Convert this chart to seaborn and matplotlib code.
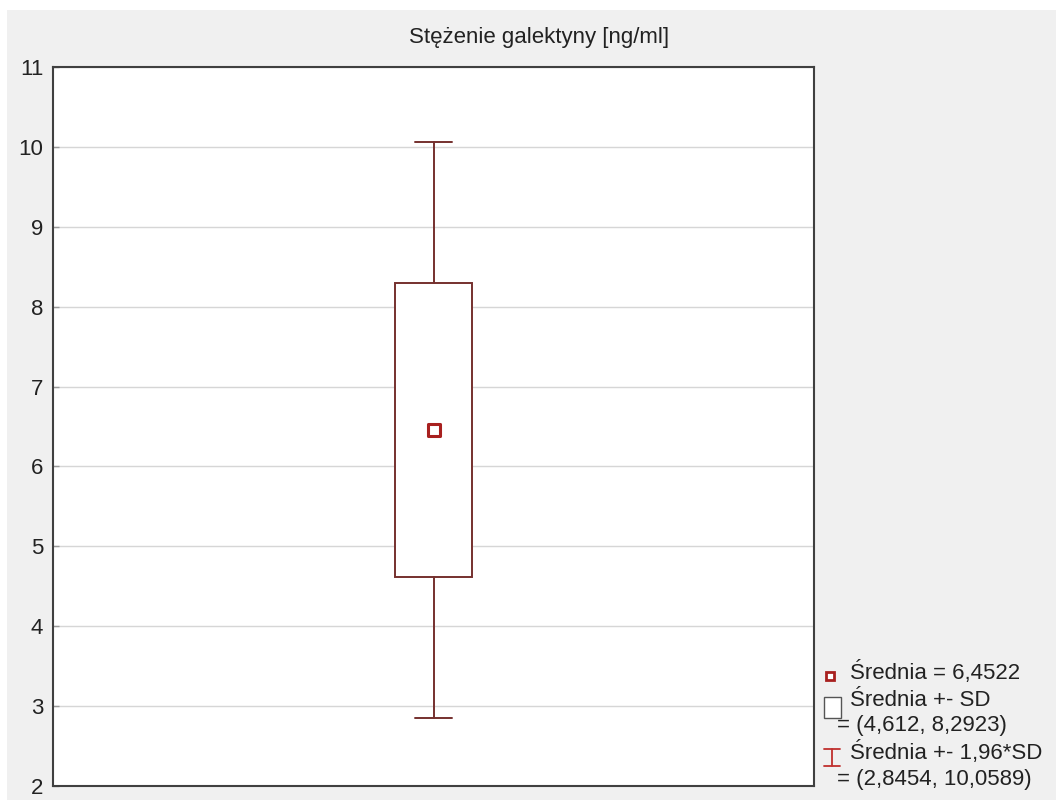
import matplotlib
matplotlib.use("Agg")
import matplotlib.pyplot as plt
from matplotlib.patches import Rectangle
from matplotlib.lines import Line2D
import seaborn as sns
import pandas as pd

# Summary statistics of galectin concentration
title = "Stężenie galektyny [ng/ml]"
mean_value = 6.4522
sd_range = [4.612, 8.2923]
sd196_range = [2.8454, 10.0589]
y_ticks = [2, 3, 4, 5, 6, 7, 8, 9, 10, 11]

legend_lines = [
    "Średnia = 6,4522",
    "Średnia +- SD",
    "= (4,612, 8,2923)",
    "Średnia +- 1,96*SD",
    "= (2,8454, 10,0589)",
]

sns.set_theme(style="white")
plt.rcParams["font.family"] = ["Liberation Sans", "DejaVu Sans"]

BOX_COLOR = "#75302e"
MARK_COLOR = "#a8201f"
BG = "#f0f0f0"
FS = 16

fig = plt.figure(figsize=(10.56, 8.0), dpi=100, facecolor="white")
fig.patches.append(Rectangle((7 / 1056, 0), 1 - 7 / 1056, 1 - 10 / 800,
                             transform=fig.transFigure, facecolor=BG,
                             edgecolor="none", zorder=-10))

ax = fig.add_axes([53 / 1056, 1 - 786 / 800, (814 - 53) / 1056, (786 - 67) / 800])
ax.set_facecolor("white")

stats = [{
    "med": mean_value,
    "q1": sd_range[0],
    "q3": sd_range[1],
    "whislo": sd196_range[0],
    "whishi": sd196_range[1],
    "fliers": [],
}]
line_kw = dict(color=BOX_COLOR, linewidth=1.4)
ax.bxp(stats, positions=[0], widths=0.1, capwidths=0.048, showfliers=False,
       patch_artist=True,
       boxprops=dict(facecolor="white", edgecolor=BOX_COLOR, linewidth=1.4),
       whiskerprops=line_kw, capprops=line_kw,
       medianprops=dict(linewidth=0), zorder=3)

df = pd.DataFrame({"x": [0.0], "y": [mean_value]})
sns.scatterplot(data=df, x="x", y="y", marker="s", s=70, color="white",
                edgecolor=MARK_COLOR, linewidth=2.2, ax=ax, zorder=5,
                legend=False)

ax.set_xlim(-0.5, 0.5)
ax.set_ylim(y_ticks[0], y_ticks[-1])
ax.set_yticks(y_ticks)
ax.set_yticklabels([str(t) for t in y_ticks], fontsize=FS, color="#222222")
ax.set_xticks([])
ax.set_xlabel("")
ax.set_ylabel("")
ax.yaxis.grid(True, color="#d6d6d6", linewidth=1.0)
ax.set_axisbelow(True)
ax.tick_params(axis="y", direction="in", length=4, width=1, color="#999999",
               pad=7, left=True)
for sp in ax.spines.values():
    sp.set_color("#404040")
    sp.set_linewidth(1.5)
    sp.set_visible(True)

fig.text(539 / 1056, 1 - 38 / 800, title, ha="center", va="center",
         fontsize=FS, color="#222222")

# Legend, drawn in figure pixels
def fx(px):
    return px / 1056

def fy(py):
    return 1 - py / 800

text_x = [850, 850, 837, 850, 837]
text_y = [673, 700, 726, 753, 779]
for line, px, py in zip(legend_lines, text_x, text_y):
    fig.text(fx(px), fy(py), line, ha="left", va="center", fontsize=FS,
             color="#222222")

fig.lines.append(Line2D([fx(830)], [fy(676)], marker="s", markersize=6,
                        markerfacecolor="white", markeredgecolor=MARK_COLOR,
                        markeredgewidth=2.0, linestyle="none",
                        transform=fig.transFigure))
fig.patches.append(Rectangle((fx(824), fy(718)), fx(841) - fx(824),
                             fy(697) - fy(718), transform=fig.transFigure,
                             facecolor="white", edgecolor="#555555",
                             linewidth=1.0))
for seg in ([824, 840, 749, 749], [824, 840, 766, 766], [832, 832, 749, 766]):
    fig.lines.append(Line2D([fx(seg[0]), fx(seg[1])], [fy(seg[2]), fy(seg[3])],
                            color="#c0302e", linewidth=1.3,
                            transform=fig.transFigure))

fig.savefig("out.png", dpi=100, facecolor=fig.get_facecolor())
